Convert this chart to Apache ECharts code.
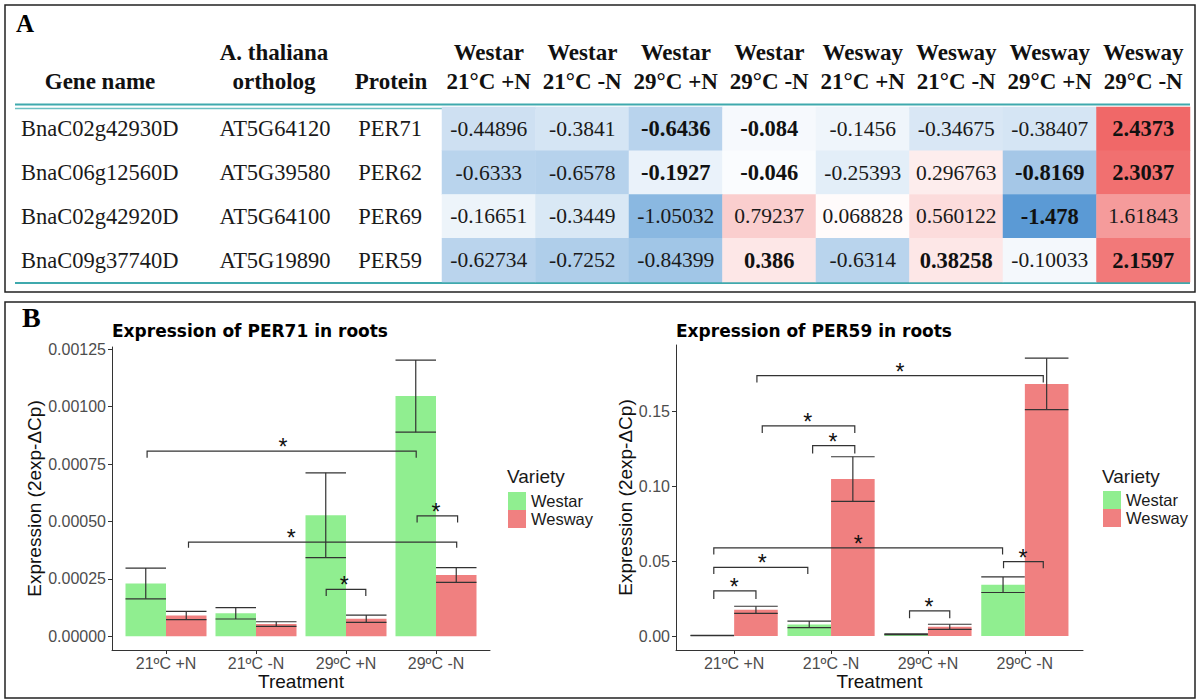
<!DOCTYPE html>
<html>
<head>
<meta charset="utf-8">
<script src="https://cdn.jsdelivr.net/npm/echarts@6/dist/echarts.min.js"></script>
<style>html,body{margin:0;padding:0;background:#fff}#c{width:1200px;height:700px}</style>
</head>
<body>
<div id="c"></div>
<script>
// ---------- Panel A data (table / heatmap) ----------
const colVarieties = ['Westar','Westar','Westar','Westar','Wesway','Wesway','Wesway','Wesway'];
const colTreatments = ['21°C +N','21°C -N','29°C +N','29°C -N','21°C +N','21°C -N','29°C +N','29°C -N'];
const geneNames = ['BnaC02g42930D','BnaC06g12560D','BnaC02g42920D','BnaC09g37740D'];
const orthologs = ['AT5G64120','AT5G39580','AT5G64100','AT5G19890'];
const proteins = ['PER71','PER62','PER69','PER59'];
const rowPER71 = [-0.44896, -0.3841, -0.6436, -0.084, -0.1456, -0.34675, -0.38407, 2.4373];
const rowPER62 = [-0.6333, -0.6578, -0.1927, -0.046, -0.25393, 0.296763, -0.8169, 2.3037];
const rowPER69 = [-0.16651, -0.3449, -1.05032, 0.79237, 0.068828, 0.560122, -1.478, 1.61843];
const rowPER59 = [-0.62734, -0.7252, -0.84399, 0.386, -0.6314, 0.38258, -0.10033, 2.1597];
const boldPER71 = [0,0,1,1,0,0,0,1];
const boldPER62 = [0,0,1,1,0,0,1,1];
const boldPER69 = [0,0,0,0,0,0,1,0];
const boldPER59 = [0,0,0,1,0,1,0,1];

// ---------- Panel B data (bar charts) ----------
const treatments = ['21ºC +N','21ºC -N','29ºC +N','29ºC -N'];
const per71Westar = [0.00023, 0.0001, 0.000527, 0.001046];
const per71WestarSE = [0.000067, 0.000025, 0.000185, 0.000157];
const per71Wesway = [0.00009, 0.000053, 0.000076, 0.000267];
const per71WeswaySE = [0.000018, 0.00001, 0.000016, 0.000032];
const per71Ticks = [0, 0.00025, 0.0005, 0.00075, 0.001, 0.00125];
// [x start, x end, bracket height, tip end, star x]
const per71Sig = [
  [0.79, 3.78, 0.000806, 0.000778, 2.30],
  [1.25, 4.23, 0.00041, 0.000385, 2.39],
  [2.78, 3.22, 0.000204, 0.000175, 2.98],
  [3.79, 4.24, 0.000524, 0.000495, 4.00]
];
const per59Westar = [0.0003, 0.0078, 0.0012, 0.0343];
const per59WestarSE = [0.0001, 0.0022, 0.0002, 0.0052];
const per59Wesway = [0.0175, 0.1048, 0.0062, 0.1683];
const per59WeswaySE = [0.0024, 0.0149, 0.0017, 0.0172];
const per59Ticks = [0, 0.05, 0.10, 0.15];
const per59Sig = [
  [1.235, 4.19, 0.1738, 0.1693, 2.71],
  [1.29, 2.245, 0.1403, 0.1356, 1.76],
  [1.81, 2.245, 0.1271, 0.1219, 2.02],
  [0.79, 3.77, 0.0589, 0.0544, 2.28],
  [0.79, 1.76, 0.0458, 0.0414, 1.29],
  [0.79, 1.225, 0.0302, 0.0248, 1.00],
  [2.81, 3.225, 0.0168, 0.0119, 3.01],
  [3.78, 4.19, 0.0497, 0.0452, 3.98]
];

// ---------- build ----------
const SANS = 'Liberation Sans';
const TSANS = 'DejaVu Sans';
const SERIF = 'Liberation Serif';
const GREEN = '#90ee90', RED = '#f08080', INK = '#333333';
const HALF = 0.225;

const heatRows = [rowPER71, rowPER62, rowPER69, rowPER59];
const boldRows = [boldPER71, boldPER62, boldPER69, boldPER59];
const heatData = [];
heatRows.forEach((row, r) => row.forEach((v, c) => heatData.push([c, r, v])));

function barData(means, ses) { return treatments.map((t, i) => [i + 1, means[i], ses[i]]); }

function barRenderer(offset) {
  return function (params, api) {
    const x = api.value(0), m = api.value(1), se = api.value(2);
    const xl = x + offset - HALF, xr = x + offset + HALF, xc = x + offset;
    const p0 = api.coord([xl, m]), p1 = api.coord([xr, 0]);
    const t = api.coord([xc, m + se]), b = api.coord([xc, m - se]);
    const tl = api.coord([xl, m + se]), tr = api.coord([xr, m + se]);
    const bl = api.coord([xl, m - se]), br = api.coord([xr, m - se]);
    const ls = { stroke: INK, lineWidth: 1.2 };
    return { type: 'group', children: [
      { type: 'rect', shape: { x: p0[0], y: p0[1], width: p1[0] - p0[0], height: p1[1] - p0[1] }, style: { fill: api.visual('color') } },
      { type: 'line', shape: { x1: t[0], y1: t[1], x2: b[0], y2: b[1] }, style: ls },
      { type: 'line', shape: { x1: tl[0], y1: tl[1], x2: tr[0], y2: tr[1] }, style: ls },
      { type: 'line', shape: { x1: bl[0], y1: bl[1], x2: br[0], y2: br[1] }, style: ls }
    ]};
  };
}
function sigRenderer(params, api) {
  const x1 = api.value(0), x2 = api.value(1), y = api.value(2), yt = api.value(3), xs = api.value(4);
  const a = api.coord([x1, yt]), b = api.coord([x1, y]), c = api.coord([x2, y]), d = api.coord([x2, yt]);
  const s = api.coord([xs, y]);
  return { type: 'group', children: [
    { type: 'polyline', shape: { points: [a, b, c, d] }, style: { stroke: INK, lineWidth: 1.2, fill: null } },
    { type: 'text', x: s[0], y: s[1] - 4, style: { text: '*', font: '23px "' + SANS + '"', fill: '#111', align: 'center', verticalAlign: 'middle' } }
  ]};
}

function valueX(grid) {
  return {
    gridIndex: grid, type: 'value', min: 0.4, max: 4.6, splitLine: { show: false },
    axisLine: { show: true, onZero: false, lineStyle: { color: INK, width: 1 } },
    axisTick: { show: true, customValues: [1, 2, 3, 4], length: 4, lineStyle: { color: INK } },
    axisLabel: { customValues: [1, 2, 3, 4], formatter: v => treatments[Math.round(v) - 1], fontFamily: SANS, fontSize: 16, color: '#4d4d4d', margin: 5 },
    name: 'Treatment', nameLocation: 'middle', nameGap: 22,
    nameTextStyle: { fontFamily: SANS, fontSize: 19, color: '#111' }
  };
}
function valueY(grid, min, max, ticks, digits, gap) {
  return {
    gridIndex: grid, type: 'value', min: min, max: max, splitLine: { show: false },
    axisLine: { show: true, onZero: false, lineStyle: { color: INK, width: 1 } },
    axisTick: { show: true, customValues: ticks, length: 4, lineStyle: { color: INK } },
    axisLabel: { customValues: ticks, formatter: v => v.toFixed(digits), fontFamily: SANS, fontSize: 16, color: '#4d4d4d', margin: 6 },
    name: 'Expression (2exp-ΔCp)', nameLocation: 'middle', nameRotate: 90, nameGap: gap,
    nameTextStyle: { fontFamily: SANS, fontSize: 19, color: '#111' }
  };
}
function legendAt(left, top) {
  return { data: ['Westar', 'Wesway'], orient: 'vertical', left: left, top: top, itemWidth: 18, itemHeight: 18, itemGap: 0,
    icon: 'rect', padding: 0, selectedMode: false, textStyle: { fontFamily: SANS, fontSize: 16.5, color: '#1a1a1a' } };
}
const titleBold = (text, left, top, size, fam) => ({ text, left, top, padding: 0,
  textStyle: { fontFamily: fam, fontWeight: 'bold', fontSize: size, color: '#000' } });
const legendTitle = (left) => ({ text: 'Variety', left: left, top: 467, padding: 0,
  textStyle: { fontFamily: SANS, fontWeight: 'normal', fontSize: 19, color: '#1a1a1a' } });

const hdr = (text, x, y) => ({ type: 'text', x: x, y: y, style: { text: text, font: 'bold 23px "' + SERIF + '"', fill: '#111', textAlign: 'center', textVerticalAlign: 'middle' } });
const hline = (y, w, color) => ({ type: 'line', shape: { x1: 15, y1: y, x2: 1190, y2: y }, style: { stroke: color, lineWidth: w } });

const chart = echarts.init(document.getElementById('c'), null, { renderer: 'svg' });
chart.setOption({
  animation: false,
  backgroundColor: '#fff',
  title: [
    titleBold('A', 16, 11, 25, SERIF),
    titleBold('B', 22, 303, 28, SERIF),
    titleBold('Expression of PER71 in roots', 112, 322, 17, TSANS),
    titleBold('Expression of PER59 in roots', 676, 322, 17, TSANS),
    legendTitle(507), legendTitle(1102)
  ],
  legend: [legendAt(508, 492), legendAt(1103, 491)],
  grid: [
    { left: 112, right: 710, top: 347, bottom: 50 },
    { left: 676, right: 117, top: 345, bottom: 50 },
    { left: 442, right: 10, top: 107, height: 175 }
  ],
  xAxis: [
    valueX(0), valueX(1),
    { gridIndex: 2, type: 'category', position: 'top', data: colVarieties.map((v, i) => v + '\n' + colTreatments[i]),
      axisLine: { show: false }, axisTick: { show: false }, splitLine: { show: false },
      axisLabel: { interval: 0, margin: 11.5,
        formatter: (v, i) => '{h|' + colVarieties[i] + '}\n{h|' + colTreatments[i] + '}',
        rich: { h: { fontFamily: SERIF, fontWeight: 'bold', fontSize: 23, lineHeight: 29, color: '#111' } } } }
  ],
  yAxis: [
    valueY(0, -0.00006, 0.00126, per71Ticks, 5, 68),
    valueY(1, -0.0093, 0.1943, per59Ticks, 2, 40),
    { gridIndex: 2, type: 'category', inverse: true, data: proteins,
      axisLine: { show: false }, axisTick: { show: false }, splitLine: { show: false },
      axisLabel: { interval: 0, margin: 12,
        formatter: (v, i) => '{g|' + geneNames[i] + '}{o|' + orthologs[i] + '}{p|' + proteins[i] + '}',
        rich: {
          g: { width: 179, align: 'left', fontFamily: SERIF, fontSize: 22.5, color: '#1a1a1a' },
          o: { width: 150, align: 'center', fontFamily: SERIF, fontSize: 22.5, color: '#1a1a1a' },
          p: { width: 80, align: 'center', fontFamily: SERIF, fontSize: 22.5, color: '#1a1a1a' }
        } } }
  ],
  visualMap: {
    type: 'continuous', show: false, seriesIndex: 6, dimension: 2, min: -1.5, max: 2.5,
    inRange: { color: ['#5999d4', '#90bbe2', '#c8ddf1', '#ffffff', '#fce0e0', '#f9c1c1', '#f6a2a2', '#f38383', '#f06464'] }
  },
  series: [
    { type: 'custom', name: 'Westar', xAxisIndex: 0, yAxisIndex: 0, itemStyle: { color: GREEN }, data: barData(per71Westar, per71WestarSE), renderItem: barRenderer(-HALF), silent: true },
    { type: 'custom', name: 'Wesway', xAxisIndex: 0, yAxisIndex: 0, itemStyle: { color: RED }, data: barData(per71Wesway, per71WeswaySE), renderItem: barRenderer(HALF), silent: true },
    { type: 'custom', name: 'sig71', xAxisIndex: 0, yAxisIndex: 0, data: per71Sig, renderItem: sigRenderer, silent: true, z: 5 },
    { type: 'custom', name: 'Westar', xAxisIndex: 1, yAxisIndex: 1, itemStyle: { color: GREEN }, data: barData(per59Westar, per59WestarSE), renderItem: barRenderer(-HALF), silent: true },
    { type: 'custom', name: 'Wesway', xAxisIndex: 1, yAxisIndex: 1, itemStyle: { color: RED }, data: barData(per59Wesway, per59WeswaySE), renderItem: barRenderer(HALF), silent: true },
    { type: 'custom', name: 'sig59', xAxisIndex: 1, yAxisIndex: 1, data: per59Sig, renderItem: sigRenderer, silent: true, z: 5 },
    { type: 'heatmap', xAxisIndex: 2, yAxisIndex: 2, data: heatData, silent: true, emphasis: { disabled: true },
      label: { show: true,
        formatter: p => (boldRows[p.value[1]][p.value[0]] ? '{b|' : '{n|') + p.value[2] + '}',
        rich: {
          n: { fontFamily: SERIF, fontSize: 21.5, color: '#1a1a1a' },
          b: { fontFamily: SERIF, fontWeight: 'bold', fontSize: 22.5, color: '#111' }
        } } }
  ],
  graphic: [
    { type: 'rect', shape: { x: 5, y: 5, width: 1190, height: 287 }, style: { fill: 'none', stroke: '#222', lineWidth: 1.5 }, z: 100 },
    { type: 'rect', shape: { x: 5, y: 302, width: 1190, height: 396 }, style: { fill: 'none', stroke: '#222', lineWidth: 1.5 }, z: 100 },
    hline(104.5, 2, '#3fa9ad'), hline(108.5, 1.5, '#6cc0c3'), hline(283, 2, '#3fa9ad'),
    hdr('Gene name', 100, 81), hdr('A. thaliana', 274, 52), hdr('ortholog', 274, 81), hdr('Protein', 391, 81)
  ]
});
</script>
</body>
</html>
